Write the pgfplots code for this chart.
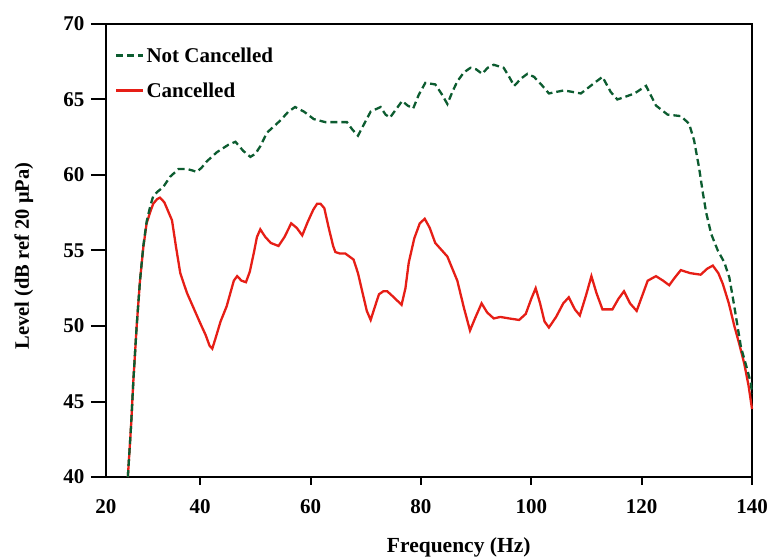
\documentclass[border=0pt]{standalone}
\usepackage{pgfplots}
\pgfplotsset{compat=1.18}
\usepackage{fontspec}
\setmainfont{Liberation Serif}
\definecolor{greenD}{RGB}{12,92,48}
\definecolor{redC}{RGB}{230,30,22}
\begin{document}
\begin{tikzpicture}
\useasboundingbox (-106bp,-81bp) rectangle (663bp,477bp);
\begin{axis}[
  at={(0,0)}, anchor=south west,
  width=646bp, height=453bp, scale only axis,
  xmin=22.94, xmax=140, ymin=40, ymax=70,
  clip=false,
  xtick={22.94,40,60,80,100,120,140},
  xticklabels={20,40,60,80,100,120,140},
  ytick={40,45,50,55,60,65,70},
  xtick pos=lower, ytick pos=left, tick align=outside,
  major tick length=15bp,
  xtick style={draw=none},
  ytick style={line width=2bp, black},
  axis line style={line width=2.2bp},
  /pgf/number format/assume math mode=true,
  ticklabel style={font=\fontsize{21bp}{25bp}\selectfont\bfseries},
  xticklabel style={yshift=-4bp},
  yticklabel style={xshift=-3bp},
  xlabel={Frequency (Hz)},
  ylabel={Level (dB ref 20 μPa)},
  xlabel style={at={(axis description cs:0.546,-0.1656)}, anchor=base, font=\fontsize{21.5bp}{25bp}\selectfont\bfseries},
  ylabel style={at={(axis description cs:-0.1192,0.488)}, rotate=0, anchor=base, font=\fontsize{20.5bp}{25bp}\selectfont\bfseries},
  legend style={at={(axis description cs:0.014,0.953)}, anchor=north west, draw=none, fill=none, inner sep=0pt, row sep=15bp,
    font=\fontsize{21bp}{25bp}\selectfont\bfseries},
  legend cell align=left,
  reverse legend,
  legend image code/.code={\draw[#1] (0bp,0bp) -- (27bp,0bp);},
]
\pgfplotsinvokeforeach{40,60,80,100,120,140}{\draw[line width=2bp, black] (axis cs:#1,40) -- ([yshift=-8bp]axis cs:#1,40);}
\addplot[redC, line width=2.3bp] coordinates {
(26.9,40.0) (27.5,43.5) (27.9,46.4) (28.5,50.0) (29.1,53.0) (29.7,55.2) (30.3,56.8) (31.0,57.6) (31.5,58.1) (32.2,58.4) (32.7,58.5) (33.5,58.2) (34.2,57.6) (34.9,57.0) (35.6,55.3) (36.4,53.5) (37.6,52.2) (38.8,51.2) (40.0,50.2) (41.0,49.4) (41.7,48.7) (42.2,48.5) (42.8,49.2) (43.7,50.3) (44.8,51.3) (46.1,53.0) (46.7,53.3) (47.5,53.0) (48.3,52.9) (49.0,53.6) (49.7,54.8) (50.3,55.9) (50.9,56.4) (51.8,55.9) (52.8,55.5) (54.2,55.3) (55.3,55.9) (56.5,56.8) (57.5,56.5) (58.5,56.0) (59.5,56.9) (60.5,57.7) (61.2,58.1) (61.8,58.1) (62.5,57.8) (63.3,56.5) (64.1,55.3) (64.5,54.9) (65.3,54.8) (66.3,54.8) (67.8,54.4) (68.6,53.5) (69.3,52.4) (70.2,51.0) (70.9,50.4) (71.6,51.2) (72.4,52.1) (73.2,52.3) (73.9,52.3) (75.1,51.9) (76.5,51.4) (77.2,52.5) (77.8,54.2) (78.8,55.8) (79.8,56.8) (80.7,57.1) (81.6,56.5) (82.6,55.5) (84.8,54.6) (86.6,53.0) (87.8,51.2) (88.9,49.7) (89.8,50.5) (91.0,51.5) (92.0,50.9) (93.2,50.5) (94.4,50.6) (96.0,50.5) (97.8,50.4) (99.0,50.8) (100.0,51.8) (100.8,52.5) (101.6,51.5) (102.4,50.3) (103.2,49.9) (104.5,50.6) (105.8,51.5) (106.8,51.9) (107.9,51.1) (108.8,50.7) (109.9,52.0) (110.9,53.3) (111.8,52.2) (112.9,51.1) (114.7,51.1) (115.8,51.8) (116.8,52.3) (117.9,51.5) (119.1,51.0) (120.1,52.0) (121.1,53.0) (122.6,53.3) (123.9,53.0) (125.0,52.7) (126.0,53.2) (127.1,53.7) (128.8,53.5) (130.7,53.4) (131.9,53.8) (132.9,54.0) (133.9,53.5) (134.7,52.8) (135.8,51.5) (136.8,50.0) (137.7,48.8) (138.6,47.5) (139.4,46.0) (140.0,44.5)
};
\addlegendentry{Cancelled}
\addplot[greenD, line width=2.3bp, dash pattern=on 7bp off 4bp] coordinates {
(26.9,40.0) (27.5,43.5) (27.9,46.4) (28.5,50.0) (29.1,53.0) (29.7,55.3) (30.3,56.9) (31.0,58.0) (31.5,58.6) (32.3,58.9) (33.3,59.2) (34.6,59.9) (36.1,60.4) (37.6,60.4) (38.6,60.3) (39.4,60.2) (40.3,60.5) (41.2,60.9) (43.0,61.5) (45.1,62.0) (46.4,62.2) (47.8,61.6) (49.1,61.2) (50.0,61.4) (50.9,61.9) (52.1,62.8) (54.5,63.6) (56.0,64.2) (57.2,64.5) (58.8,64.2) (60.6,63.7) (62.7,63.5) (66.6,63.5) (67.6,63.0) (68.6,62.6) (69.6,63.3) (70.9,64.2) (72.7,64.5) (73.6,64.0) (74.4,63.8) (75.6,64.4) (76.6,64.9) (77.6,64.6) (78.6,64.4) (79.6,65.3) (80.8,66.1) (82.6,66.0) (83.7,65.4) (84.8,64.7) (85.7,65.5) (86.6,66.2) (87.8,66.8) (89.0,67.1) (90.0,67.0) (91.1,66.7) (92.1,67.1) (93.2,67.3) (95.0,67.1) (96.0,66.5) (96.9,65.9) (98.2,66.4) (99.3,66.7) (100.5,66.5) (101.8,66.0) (103.2,65.4) (104.5,65.5) (105.9,65.6) (107.5,65.5) (109.0,65.4) (111.1,66.0) (112.9,66.5) (114.4,65.5) (115.6,65.0) (117.2,65.2) (118.7,65.4) (120.8,65.9) (122.6,64.6) (124.7,64.0) (127.1,63.9) (128.6,63.4) (129.5,62.3) (130.4,60.5) (131.1,58.8) (131.7,57.5) (132.6,56.1) (133.8,55.0) (135.0,54.2) (135.9,53.2) (136.7,51.5) (138.0,48.6) (139.0,47.3) (139.8,46.2) (140.0,45.5)
};
\addlegendentry{Not Cancelled}
\end{axis}
\end{tikzpicture}
\end{document}
